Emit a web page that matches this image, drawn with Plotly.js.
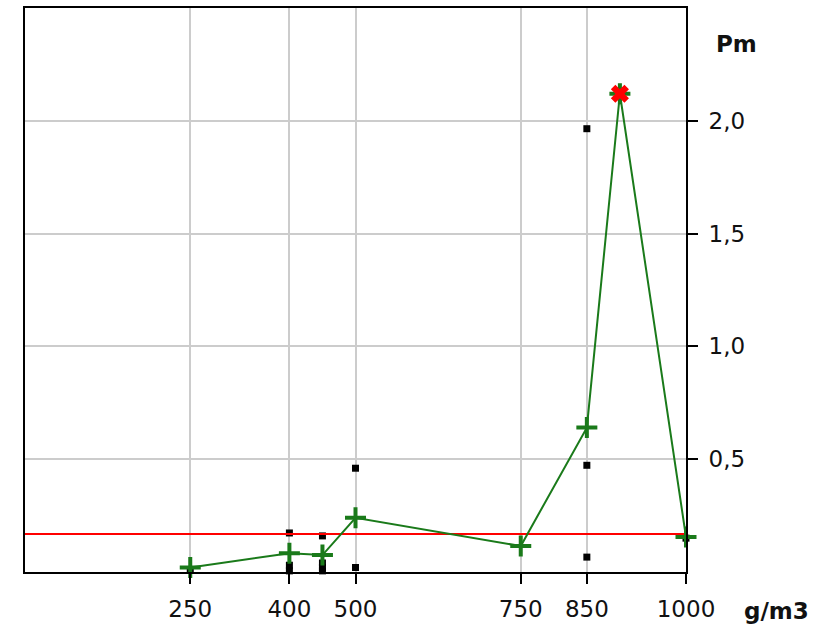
<!DOCTYPE html>
<html>
<head>
<meta charset="utf-8">
<script src="https://cdn.plot.ly/plotly-3.0.1.min.js"></script>
<style>html,body{margin:0;padding:0;background:#fff;}#chart{width:830px;height:629px;}</style>
</head>
<body>
<div id="chart"></div>
<script>
// Mean values (green line)
const meanX = [250, 400, 450, 500, 750, 850, 900, 1000];
const meanY = [0.02, 0.083, 0.075, 0.24, 0.115, 0.64, 2.12, 0.155];
// Individual measurements (black squares)
const pointsX = [250, 400, 400, 400, 450, 450, 450, 450, 500, 500, 850, 850, 850, 1000];
const pointsY = [0.01, 0.173, 0.03, 0.005, 0.16, 0.04, 0.02, 0.005, 0.46, 0.02, 1.965, 0.473, 0.066, 0.15];
// Maximum point (red X)
const maxX = [900];
const maxY = [2.12];
// Reference level (red line)
const refX = [0, 1000];
const refY = [0.168, 0.168];
// Axes ticks
const xTicks = [250, 400, 500, 750, 850, 1000];
const xTickText = ['250', '400', '500', '750', '850', '1000'];
const yTicks = [0.5, 1.0, 1.5, 2.0];
const yTickText = ['0,5', '1,0', '1,5', '2,0'];
const yUnit = 'Pm';
const xUnit = 'g/m3';

const green = '#1a7a1a';
const traces = [
  {x: pointsX, y: pointsY, type: 'scatter', mode: 'markers',
   marker: {symbol: 'square', size: 7, color: '#000'}, hoverinfo: 'skip', cliponaxis: false},
  {x: refX, y: refY, type: 'scatter', mode: 'lines',
   line: {color: '#ff0000', width: 2}, hoverinfo: 'skip'},
  {x: meanX, y: meanY, type: 'scatter', mode: 'lines+markers',
   line: {color: green, width: 2},
   marker: {symbol: 'cross-thin', size: 15, color: green, line: {color: green, width: 4}},
   cliponaxis: false, hoverinfo: 'skip'},
  {x: maxX, y: maxY, type: 'scatter', mode: 'markers',
   marker: {symbol: 'x', size: 16, color: '#ff0000'}, cliponaxis: false, hoverinfo: 'skip'}
];

const tickFont = {family: 'DejaVu Sans, sans-serif', size: 23, color: '#111'};
const layout = {
  width: 830, height: 629,
  margin: {l: 25, r: 144, t: 8, b: 57, pad: 0},
  paper_bgcolor: '#fff', plot_bgcolor: '#fff',
  showlegend: false,
  xaxis: {
    range: [0, 1000], tickvals: xTicks, ticktext: xTickText,
    showgrid: true, gridcolor: '#cccccc', gridwidth: 2,
    showline: true, linecolor: '#000', linewidth: 2, mirror: true,
    ticks: 'outside', ticklen: 10, tickwidth: 2, tickcolor: '#000',
    tickfont: tickFont, ticklabelstandoff: 5, zeroline: false, fixedrange: true
  },
  yaxis: {
    range: [0, 2.5], side: 'right', tickvals: yTicks, ticktext: yTickText,
    showgrid: true, gridcolor: '#cccccc', gridwidth: 2,
    showline: true, linecolor: '#000', linewidth: 2, mirror: true,
    ticks: 'outside', ticklen: 10, tickwidth: 2, tickcolor: '#000',
    tickfont: tickFont, ticklabelstandoff: 6, zeroline: false, fixedrange: true
  },
  annotations: [
    {text: '<b>' + yUnit + '</b>', xref: 'paper', yref: 'paper', x: 736 / 830, y: 1 - 44 / 629,
     showarrow: false, xanchor: 'center', yanchor: 'middle',
     font: {family: 'DejaVu Sans, sans-serif', size: 23, color: '#111'}},
    {text: '<b>' + xUnit + '</b>', xref: 'paper', yref: 'paper', x: 776 / 830, y: 1 - 611 / 629,
     showarrow: false, xanchor: 'center', yanchor: 'middle',
     font: {family: 'DejaVu Sans, sans-serif', size: 23, color: '#111'}}
  ]
};
// convert pixel positions to paper coordinates of the plotting area
layout.annotations.forEach(a => {
  const plotW = 830 - 25 - 144, plotH = 629 - 8 - 57;
  a.x = ((a.x * 830) - 25) / plotW;
  a.y = ((a.y * 629) - 57) / plotH;
});
Plotly.newPlot('chart', traces, layout, {displayModeBar: false, staticPlot: true});
</script>
</body>
</html>
